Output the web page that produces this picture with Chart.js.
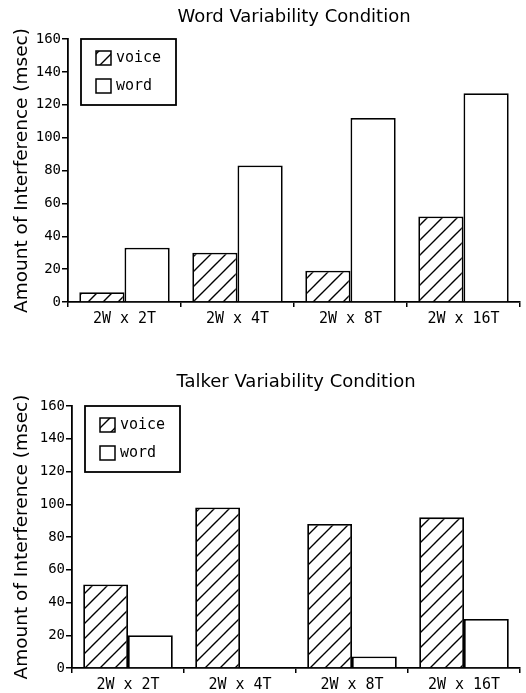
<!DOCTYPE html>
<html>
<head>
<meta charset="utf-8">
<script src="https://cdn.jsdelivr.net/npm/chart.js@4.4.1/dist/chart.umd.min.js"></script>
<style>
  body { margin: 0; background: #fff; }
  .wrap { position: absolute; left: 0; width: 526px; height: 330px; }
</style>
</head>
<body>
<div class="wrap" style="top:0"><canvas id="wordChart" width="526" height="330"></canvas></div>
<div class="wrap" style="top:363px"><canvas id="talkerChart" width="526" height="330"></canvas></div>
<script>
const categories = ['2W x 2T', '2W x 4T', '2W x 8T', '2W x 16T'];
const seriesNames = ['voice', 'word'];

// Word Variability Condition
const wordCondVoice = [6, 30, 19, 52];
const wordCondWord = [33, 83, 112, 127];

// Talker Variability Condition
const talkerCondVoice = [51, 98, 88, 92];
const talkerCondWord = [20, 0, 7, 30];

const yMin = 0, yMax = 160, yStep = 20;

function hatch() {
    const c = document.createElement('canvas');
    c.width = 15; c.height = 15;
    const g = c.getContext('2d');
    g.fillStyle = '#fff';
    g.fillRect(0, 0, 15, 15);
    g.strokeStyle = '#000';
    g.lineWidth = 1.4;
    g.beginPath();
    g.moveTo(-2, 17); g.lineTo(17, -2);
    g.moveTo(-9, 9); g.lineTo(9, -9);
    g.moveTo(6, 24); g.lineTo(24, 6);
    g.stroke();
    return g.createPattern(c, 'repeat');
}

const boxLegend = {
    id: 'boxLegend',
    afterDatasetsDraw(chart) {
        const ctx = chart.ctx;
        const a = chart.chartArea;
        const x = a.left + 13, y = a.top;
        ctx.save();
        ctx.strokeStyle = '#000';
        ctx.lineWidth = 1.8;
        ctx.fillStyle = '#fff';
        ctx.fillRect(x, y, 95, 66);
        ctx.strokeRect(x, y, 95, 66);
        ctx.font = '15px "DejaVu Sans Mono"';
        ctx.textBaseline = 'middle';
        chart.data.datasets.forEach((ds, i) => {
            const cy = y + 19 + i * 28;
            ctx.fillStyle = ds.backgroundColor;
            ctx.fillRect(x + 15, cy - 7, 15, 14);
            ctx.lineWidth = 1.5;
            ctx.strokeRect(x + 15, cy - 7, 15, 14);
            ctx.fillStyle = '#000';
            ctx.fillText(ds.label, x + 35, cy);
        });
        ctx.restore();
    }
};

function makeChart(id, titleText, voice, word, axisLeft, titlePad, xHeight) {
    return new Chart(document.getElementById(id).getContext('2d'), {
        type: 'bar',
        data: {
            labels: categories,
            datasets: [
                { label: seriesNames[0], data: voice, backgroundColor: hatch(), borderColor: '#000', borderWidth: 1.8 },
                { label: seriesNames[1], data: word, backgroundColor: '#fff', borderColor: '#000', borderWidth: 1.8 }
            ]
        },
        options: {
            responsive: false,
            animation: false,
            layout: { padding: { left: 0, right: 6, top: 0, bottom: 0 } },
            datasets: { bar: { barPercentage: 1, categoryPercentage: 0.8 } },
            plugins: {
                legend: { display: false },
                tooltip: { enabled: false },
                title: {
                    display: true,
                    text: titleText,
                    fullSize: false,
                    color: '#000',
                    font: { family: '"DejaVu Sans"', size: 18, weight: 'normal', lineHeight: 1.2 },
                    padding: titlePad
                }
            },
            scales: {
                x: {
                    offset: true,
                    grid: { display: true, offset: true, drawOnChartArea: false, drawTicks: true, tickLength: 5, tickColor: '#000', lineWidth: 1.5 },
                    border: { display: true, color: '#000', width: 1.8 },
                    ticks: { color: '#000', padding: 3, maxRotation: 0, font: { family: '"DejaVu Sans Mono"', size: 15 } },
                    afterFit: s => { s.height = xHeight; }
                },
                y: {
                    min: yMin,
                    max: yMax,
                    grid: { display: true, drawOnChartArea: false, drawTicks: true, tickLength: 6, tickColor: '#000', lineWidth: 1.5 },
                    border: { display: true, color: '#000', width: 1.8 },
                    ticks: { stepSize: yStep, color: '#000', padding: 1, font: { family: '"DejaVu Sans Mono"', size: 14 } },
                    title: {
                        display: true,
                        text: 'Amount of Interference (msec)',
                        color: '#000',
                        font: { family: '"DejaVu Sans"', size: 18.5, lineHeight: 1.2 },
                        padding: { top: 11, bottom: 0 }
                    },
                    afterFit: s => { s.width = axisLeft; }
                }
            }
        },
        plugins: [boxLegend]
    });
}

makeChart('wordChart', 'Word Variability Condition', wordCondVoice, wordCondWord, 68, { top: 7, bottom: 10.4 }, 28);
makeChart('talkerChart', 'Talker Variability Condition', talkerCondVoice, talkerCondWord, 72, { top: 9, bottom: 12.4 }, 25);
</script>
</body>
</html>
